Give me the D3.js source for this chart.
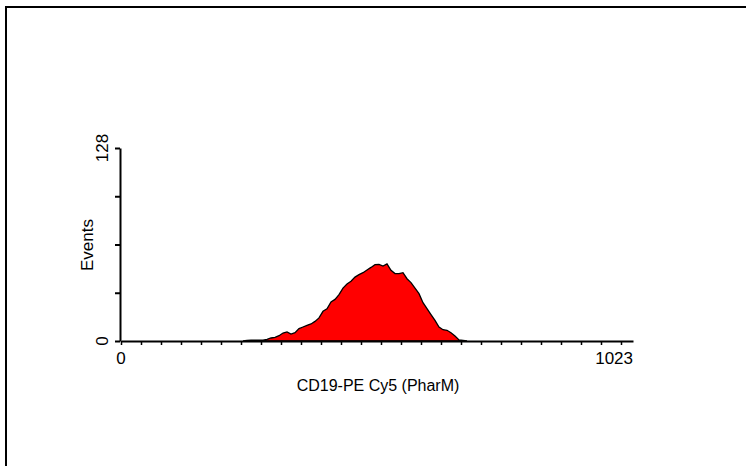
<!DOCTYPE html>
<html>
<head>
<meta charset="utf-8">
<script src="https://cdn.jsdelivr.net/npm/d3@7"></script>
<style>
  body { margin: 0; background: #fff; }
  svg { display: block; font-family: 'Liberation Sans', Arial, sans-serif; }
  .axis path, .axis line { stroke: #000; }
</style>
</head>
<body>
<div id="container"></div>
<script>
// histogram counts, 8 channel wide bins starting at channel 240
var binStart = 240;
var binWidth = 8;
var counts = [0, 0.4, 0.5, 0.5, 0.5, 0.5, 1.1, 2.0, 2.4, 3.5, 5.3, 6.0, 4.6, 5.5,
  8.2, 9.3, 10.4, 11.3, 13.0, 15.3, 19.7, 21.4, 25.9, 27.6, 30.7, 35.1, 37.8,
  39.6, 42.4, 44.0, 45.3, 47.1, 48.8, 50.6, 50.8, 49.7, 51.1, 46.9, 44.7, 44.7,
  45.3, 41.3, 38.7, 35.1, 31.4, 25.4, 21.4, 17.5, 13.7, 9.3, 7.5, 7.1, 5.5, 3.3,
  0.7, 0.4, 0];
var xDomain = [0, 1024];
var yDomain = [0, 128];
var xTickValues = d3.range(0, 1024, 40);
var yTickValues = [0, 32, 64, 96, 128];
var xTitle = 'CD19-PE Cy5 (PharM)';
var yTitle = 'Events';

var svg = d3.select('#container').append('svg')
  .attr('width', 746)
  .attr('height', 466);

// frame (only top and left edges show)
svg.append('path')
  .attr('d', 'M6,466 L6,7 L746,7')
  .attr('fill', 'none')
  .attr('stroke', '#000')
  .attr('stroke-width', 2);

var x = d3.scaleLinear().domain(xDomain).range([121, 633]);
var y = d3.scaleLinear().domain(yDomain).range([341, 148]);

var bins = counts.map(function(c, i) {
  return { ch: binStart + i * binWidth + binWidth / 2, n: c };
});

var area = d3.area()
  .x(function(d) { return x(d.ch); })
  .y0(y(0))
  .y1(function(d) { return y(d.n); });

svg.append('path')
  .datum(bins)
  .attr('d', area)
  .attr('fill', '#ff0000')
  .attr('stroke', '#000')
  .attr('stroke-width', 1.3);

var xAxis = svg.append('g')
  .attr('class', 'axis')
  .attr('transform', 'translate(0,341)')
  .call(d3.axisBottom(x).tickValues(xTickValues).tickSize(4).tickSizeOuter(0).tickFormat(''));
xAxis.select('.domain').attr('stroke-width', 2);
xAxis.selectAll('.tick line').attr('stroke-width', 1.5);

var yAxis = svg.append('g')
  .attr('class', 'axis')
  .attr('transform', 'translate(120,0)')
  .call(d3.axisLeft(y).tickValues(yTickValues).tickSize(5).tickSizeOuter(0).tickFormat(''));
yAxis.select('.domain').attr('stroke-width', 2);
yAxis.selectAll('.tick line').attr('stroke-width', 2);

// end labels
svg.append('text').attr('x', x(0)).attr('y', 364)
  .attr('text-anchor', 'middle').attr('font-size', 17).text('0');
svg.append('text').attr('x', x(1024)).attr('y', 364)
  .attr('text-anchor', 'end').attr('font-size', 17).text('1023');
svg.append('text').attr('x', 378).attr('y', 391)
  .attr('text-anchor', 'middle').attr('font-size', 16).text(xTitle);

svg.append('text')
  .attr('transform', 'translate(108,' + y(128) + ') rotate(-90)')
  .attr('text-anchor', 'middle').attr('font-size', 17).text('128');
svg.append('text')
  .attr('transform', 'translate(108,' + y(0) + ') rotate(-90)')
  .attr('text-anchor', 'middle').attr('font-size', 17).text('0');
svg.append('text')
  .attr('transform', 'translate(93,245) rotate(-90)')
  .attr('text-anchor', 'middle').attr('font-size', 17).text(yTitle);
</script>
</body>
</html>
